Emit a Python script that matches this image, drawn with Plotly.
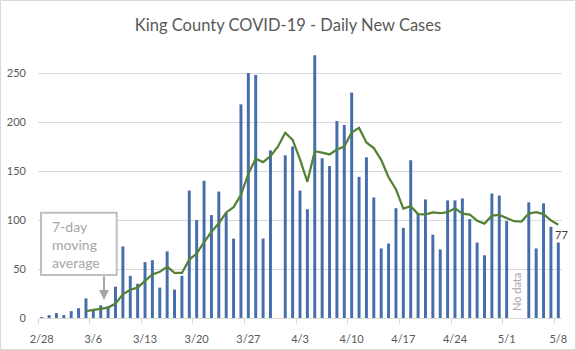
import pandas as pd
import plotly.graph_objects as go

# ---- data ----
dates = pd.date_range("2020-02-28", "2020-05-08", freq="D")
daily_cases = [1, 3, 5, 3, 7, 10, 20, 9, 13, 12,
               32, 73, 43, 35, 57, 59, 31, 68, 29, 43,
               130, 100, 140, 105, 129, 107, 81, 218, 250, 248,
               81, 171, None, 166, 175, 130, 111, 268, 163, 155,
               201, 197, 230, 144, 164, 123, 71, 76, 112, 92,
               161, 107, 121, 85, 70, 120, 120, 122, 101, 77,
               64, 127, 125, 99, None, None, 118, 71, 117, 93, 77]
ma_dates = pd.date_range("2020-03-05", "2020-05-08", freq="D")
moving_avg = [7.0, 8.1, 9.6, 10.6, 14.7, 24.1, 28.9, 31.0, 37.9, 44.4,
              47.1, 52.3, 46.0, 46.0, 59.6, 65.7, 77.3, 87.9, 96.6, 107.7,
              113.1, 125.7, 147.1, 162.6, 159.1, 165.1, 174.8, 189.0, 181.8, 161.8,
              139.0, 170.2, 168.8, 166.9, 171.9, 175.0, 189.3, 194.0, 179.1, 173.4,
              161.4, 143.6, 131.4, 111.7, 114.1, 106.0, 105.7, 107.7, 106.9, 108.0,
              112.0, 106.4, 105.6, 99.3, 96.3, 104.4, 105.1, 102.1, 98.8, 98.4,
              106.6, 108.0, 106.0, 99.6, 95.2]
tick_dates = ["2020-02-28", "2020-03-06", "2020-03-13", "2020-03-20", "2020-03-27",
              "2020-04-03", "2020-04-10", "2020-04-17", "2020-04-24", "2020-05-01",
              "2020-05-08"]
tick_labels = ["2/28", "3/6", "3/13", "3/20", "3/27", "4/3", "4/10", "4/17",
               "4/24", "5/1", "5/8"]
y_ticks = [0, 50, 100, 150, 200, 250]

FONT = "Lato"
W, H = 576, 350
ML, MR, MT, MB = 38, 14, 52, 32
PW, PH = W - ML - MR, H - MT - MB


def px_x(x):
    return (x - ML) / PW


def px_y(y):
    return (H - MB - y) / PH


fig = go.Figure()
fig.add_trace(go.Bar(x=dates, y=daily_cases, marker_color="#456DAA",
                     marker_line_width=0, name="Daily new cases"))
fig.add_trace(go.Scatter(x=ma_dates, y=moving_avg, mode="lines",
                         line=dict(color="#548235", width=2.25),
                         name="7-day moving average"))

minor_ticks = [pd.Timestamp(d) - pd.Timedelta(hours=12) for d in tick_dates]

fig.update_layout(
    width=W, height=H,
    margin=dict(l=ML, r=MR, t=MT, b=MB, autoexpand=False),
    paper_bgcolor="white", plot_bgcolor="white",
    showlegend=False, bargap=0.6,
    font=dict(family=FONT, color="#595959"),
    title=dict(text="King County COVID-19 - Daily New Cases",
               x=0.5, xref="container", xanchor="center",
               y=1 - 25 / H, yref="container", yanchor="middle",
               font=dict(family=FONT, size=16.5, color="#595959")),
    xaxis=dict(type="date", automargin=False,
               range=["2020-02-27 12:00", "2020-05-08 12:00"],
               tickmode="array", tickvals=tick_dates, ticktext=tick_labels,
               ticks="", ticklen=0, showgrid=False, zeroline=False,
               showline=True, linecolor="#D9D9D9", linewidth=1,
               tickfont=dict(family=FONT, size=11, color="#595959"),
               ticklabelstandoff=11,
               minor=dict(tickmode="array", tickvals=minor_ticks,
                          ticks="outside", ticklen=5, tickcolor="#D9D9D9",
                          showgrid=False)),
    yaxis=dict(range=[0, PH / 0.98], tickmode="array", tickvals=y_ticks,
               automargin=False,
               showgrid=True, gridcolor="#D9D9D9", gridwidth=1,
               zeroline=False, showline=False, ticks="",
               tickfont=dict(family=FONT, size=11, color="#595959"),
               ticklabelstandoff=11),
)

# outer chart border
fig.add_shape(type="rect", xref="paper", yref="paper",
              x0=px_x(0.5), x1=px_x(W - 0.5), y0=px_y(H - 0.5), y1=px_y(0.5),
              line=dict(color="#D9D9D9", width=1), fillcolor="rgba(0,0,0,0)")

# callout box
fig.add_shape(type="rect", xref="paper", yref="paper",
              x0=px_x(41), x1=px_x(116.7), y0=px_y(275), y1=px_y(212.7),
              line=dict(color="#BFBFBF", width=2), fillcolor="white", layer="above")
fig.add_annotation(xref="paper", yref="paper", x=px_x(50), y=px_y(244),
                   xanchor="left", yanchor="middle", align="left",
                   text="7-day<br>moving<br>average", showarrow=False,
                   font=dict(family=FONT, size=14, color="#A6A6A6"))
fig.add_annotation(xref="paper", yref="paper", x=px_x(104), y=px_y(300),
                   text="", showarrow=True, ax=0, ay=-25,
                   arrowhead=2, arrowsize=1, arrowwidth=2, arrowcolor="#A6A6A6",
                   standoff=0, startstandoff=0)

# last value label
fig.add_annotation(x=dates[-1], y=moving_avg[-1], text=str(daily_cases[-1]),
                   showarrow=False, xshift=3, yshift=-10,
                   font=dict(family=FONT, size=11, color="#404040"))

# No data label
fig.add_annotation(x="2020-05-02 08:00", y=27, text="No data", textangle=-90,
                   showarrow=False,
                   font=dict(family=FONT, size=11, color="#A6A6A6"))

fig.write_html("out.html")
